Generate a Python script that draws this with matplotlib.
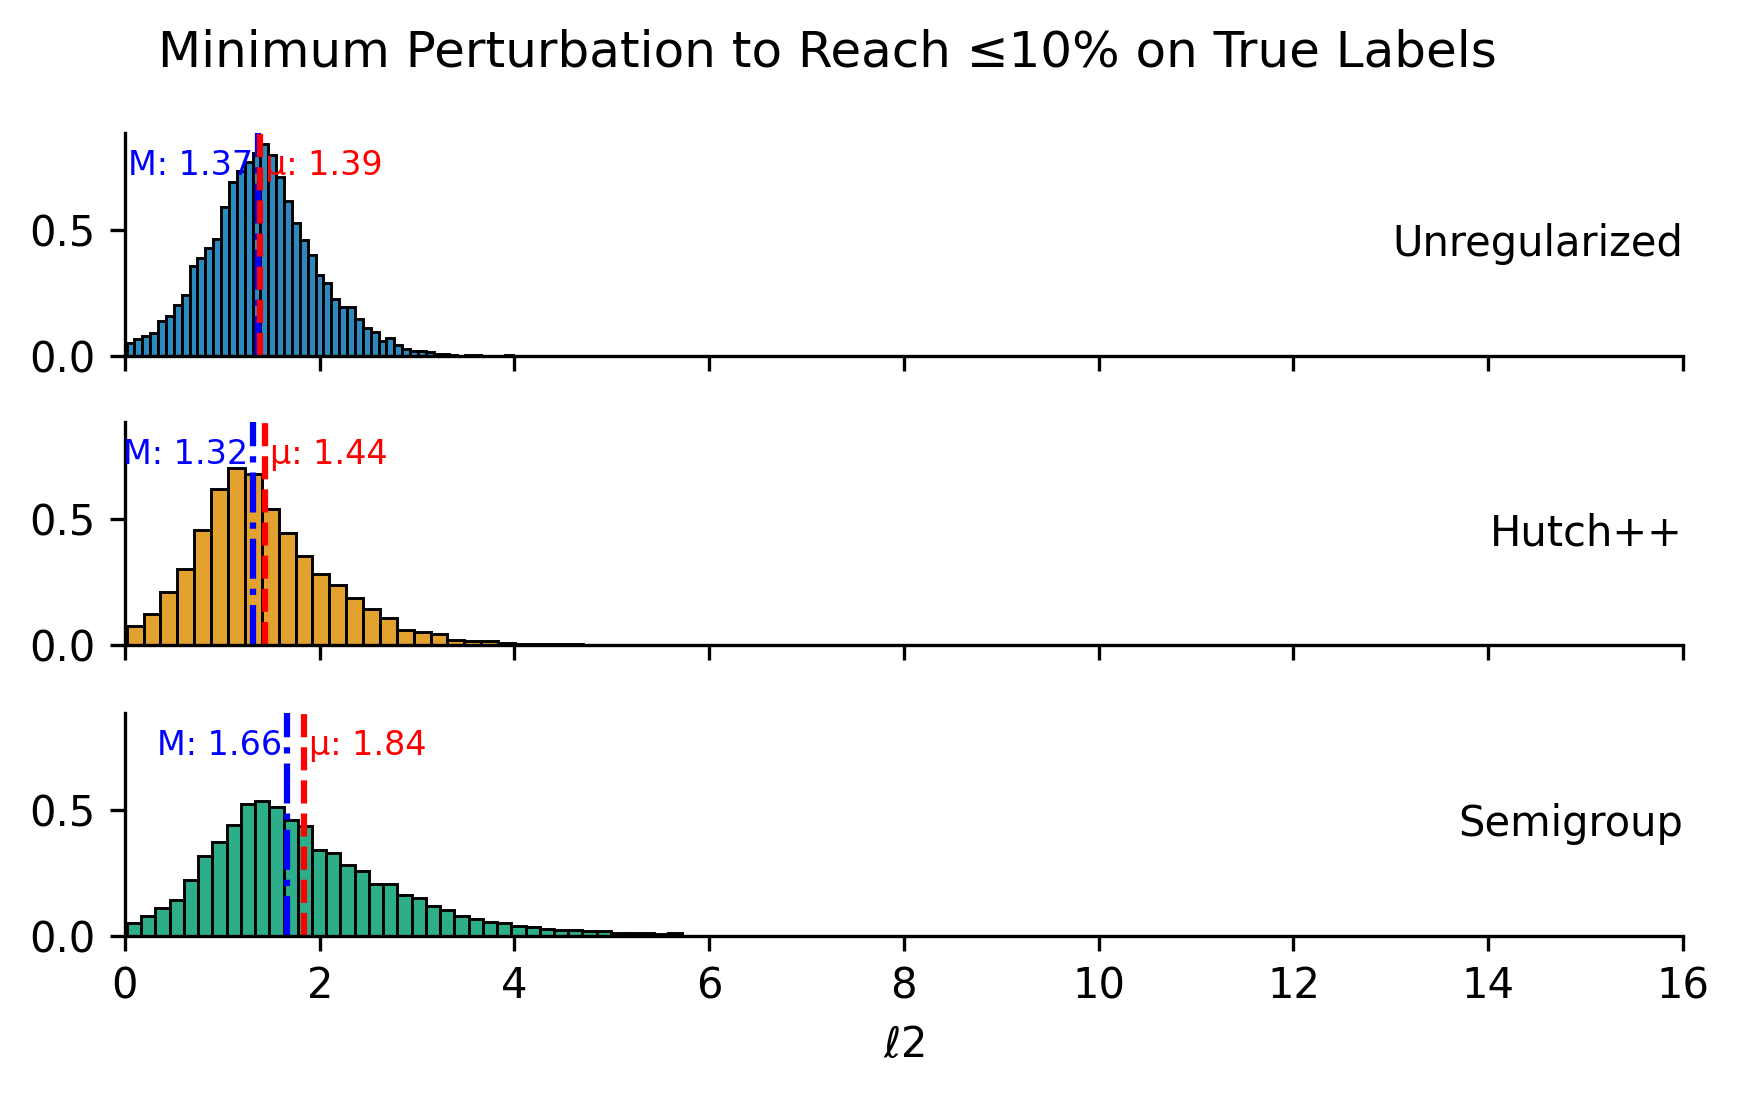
import numpy as np
import matplotlib
matplotlib.use("Agg")
import matplotlib.pyplot as plt
from matplotlib.colors import to_rgba
from matplotlib.transforms import blended_transform_factory

# density heights, one list per method
unreg_heights = [0.051, 0.069, 0.080, 0.093, 0.137, 0.157, 0.201, 0.242, 0.356, 0.390,
                 0.428, 0.465, 0.592, 0.689, 0.735, 0.769, 0.806, 0.843, 0.797, 0.710,
                 0.617, 0.527, 0.460, 0.400, 0.320, 0.289, 0.227, 0.193, 0.193, 0.145,
                 0.110, 0.096, 0.060, 0.073, 0.045, 0.028, 0.021, 0.021, 0.015, 0.008,
                 0.008, 0.004, 0.001, 0.004, 0.004, 0.001, 0.001, 0.001, 0.004]
unreg_range = (0.017, 3.98)

hutch_heights = [0.077, 0.122, 0.210, 0.300, 0.456, 0.619, 0.702, 0.679, 0.540, 0.443,
                 0.353, 0.281, 0.237, 0.188, 0.143, 0.109, 0.061, 0.050, 0.045, 0.021,
                 0.015, 0.015, 0.009, 0.004, 0.003, 0.003, 0.003]
hutch_range = (0.017, 4.70)

semi_heights = [0.053, 0.081, 0.111, 0.143, 0.221, 0.316, 0.374, 0.439, 0.525, 0.537,
                0.513, 0.460, 0.435, 0.342, 0.330, 0.280, 0.257, 0.207, 0.207, 0.162,
                0.151, 0.121, 0.103, 0.078, 0.068, 0.056, 0.052, 0.041, 0.036, 0.028,
                0.024, 0.024, 0.019, 0.019, 0.013, 0.011, 0.011, 0.007, 0.011, 0.0015,
                0.0015, 0.0015, 0.0015, 0.0015, 0.0015, 0.0015, 0.0015, 0.0015, 0.0015, 0.0015]
semi_range = (0.02, 7.33)

names = ["Unregularized", "Hutch++", "Semigroup"]
medians = [1.37, 1.32, 1.66]
means = [1.39, 1.44, 1.84]
colors = ["#0173b2", "#de8f05", "#029e73"]

heights = [unreg_heights, hutch_heights, semi_heights]
ranges = [unreg_range, hutch_range, semi_range]

fig = plt.figure(figsize=(1738 / 300, 1095 / 300), dpi=300)
plt.rcParams["font.size"] = 10

bottoms = [0.6749, 0.4110, 0.1452]
axes = []
for i, b in enumerate(bottoms):
    if i == 0:
        ax = fig.add_axes([0.0719, b, 0.8964, 0.204])
    else:
        ax = fig.add_axes([0.0719, b, 0.8964, 0.204], sharex=axes[0], sharey=axes[0])
    axes.append(ax)

for ax, h, rng, name, med, mu, c in zip(axes, heights, ranges, names, medians, means, colors):
    edges = np.linspace(rng[0], rng[1], len(h) + 1)
    ax.hist(edges[:-1], bins=edges, weights=h, facecolor=to_rgba(c, 0.83),
            edgecolor="black", linewidth=0.7)
    ax.axvline(med, color="blue", linestyle="-.", linewidth=1.5)
    ax.axvline(mu, color="red", linestyle="--", linewidth=1.5)
    trans = blended_transform_factory(ax.transData, ax.transAxes)
    ax.text(med - 0.05, 0.81, f"M: {med:.2f}", color="blue", fontsize=8,
            ha="right", va="baseline", transform=trans)
    ax.text(mu + 0.05, 0.81, f"\u03bc: {mu:.2f}", color="red", fontsize=8,
            ha="left", va="baseline", transform=trans)
    ax.text(1.0, 0.5, name, transform=ax.transAxes, ha="right", va="center", fontsize=10)
    ax.spines["top"].set_visible(False)
    ax.spines["right"].set_visible(False)

axes[0].set_xlim(0, 16)
axes[0].set_ylim(0, 0.887)
axes[0].set_yticks([0.0, 0.5])
axes[0].set_xticks(range(0, 17, 2))
for ax in axes[:2]:
    ax.tick_params(labelbottom=False)
axes[2].set_xlabel(r"$\ell$2")

fig.text(0.476, 0.9525, "Minimum Perturbation to Reach \u226410% on True Labels",
         ha="center", va="center", fontsize=12)

fig.savefig("out.png", dpi=300)
